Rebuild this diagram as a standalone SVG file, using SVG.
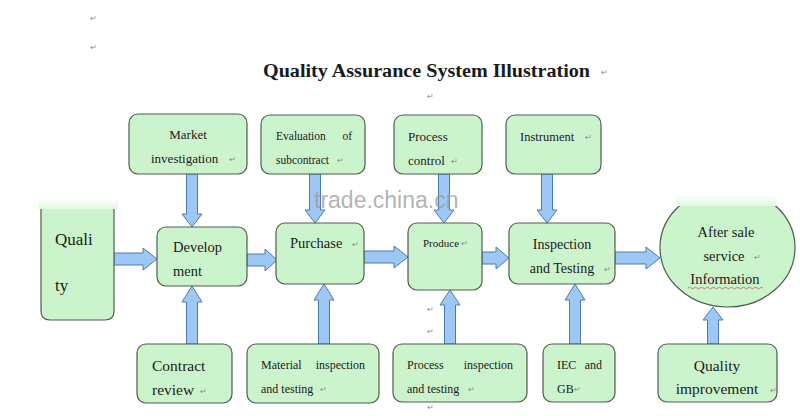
<svg xmlns="http://www.w3.org/2000/svg" width="800" height="416" viewBox="0 0 800 416">
<defs>
<style>
.box{fill:#ccf4cc;stroke:#4d5d4d;stroke-width:1.2}
.arr{fill:#9cc8f3;stroke:#4e78b4;stroke-width:1}
.t{font-family:"Liberation Serif","Times New Roman",serif;fill:#1a1a1a}
.pm{font-family:"Liberation Sans",sans-serif;font-size:8px;fill:#8a8a8a}
</style>
<linearGradient id="fade" x1="0" y1="0" x2="0" y2="1">
<stop offset="0" stop-color="#ffffff"/>
<stop offset="1" stop-color="#e2f8e2"/>
</linearGradient>
<clipPath id="ec"><rect x="650" y="205" width="150" height="110"/></clipPath>
</defs>
<rect width="800" height="416" fill="#ffffff"/>

<text class="pm" x="90" y="21">↵</text>
<text class="pm" x="90" y="50">↵</text>
<text class="t" x="263" y="77" font-size="18.5" font-weight="bold" textLength="327" lengthAdjust="spacingAndGlyphs">Quality Assurance System Illustration</text>
<text class="pm" x="601" y="75">↵</text>
<text class="pm" x="427" y="99">↵</text>

<g id="connectors">
<path class="arr" d="M114,253 H143 V248 L157,259 L143,270 V265 H114 Z"/>
<path class="arr" d="M247,254 H265 V249 L277,260 L265,271 V266 H247 Z"/>
<path class="arr" d="M364,251 H394 V246 L408,257 L394,268 V263 H364 Z"/>
<path class="arr" d="M482,252 H496 V247 L509,258 L496,269 V264 H482 Z"/>
<path class="arr" d="M615,252 H646 V247 L660,258 L646,269 V264 H615 Z"/>
<path class="arr" d="M186.5,174 V214 H182 L192,227 L202,214 H197.5 V174 Z"/>
<path class="arr" d="M309.5,174 V210 H305 L315,223 L325,210 H320.5 V174 Z"/>
<path class="arr" d="M438.5,174 V210 H434 L444,223 L454,210 H449.5 V174 Z"/>
<path class="arr" d="M541.5,174 V210 H537 L547,223 L557,210 H552.5 V174 Z"/>
<path class="arr" d="M186.5,344 V302 H182 L192,286 L202,302 H197.5 V344 Z"/>
<path class="arr" d="M318.5,344 V300 H314 L324,284 L334,300 H329.5 V344 Z"/>
<path class="arr" d="M444.5,344 V305 H440 L450,290 L460,305 H455.5 V344 Z"/>
<path class="arr" d="M569.5,344 V300 H565 L575,284 L585,300 H580.5 V344 Z"/>
<path class="arr" d="M707.5,344 V320 H703 L713,307 L723,320 H718.5 V344 Z"/>
</g>

<g id="market">
<rect class="box" x="129" y="114" width="118" height="60" rx="9"/>
<text class="t" x="188" y="139" font-size="13" text-anchor="middle">Market</text>
<text class="t" x="151" y="163" font-size="13">investigation</text>
<text class="pm" x="229" y="162">↵</text>
</g>
<g id="evaluation">
<rect class="box" x="261" y="115" width="104" height="59" rx="9"/>
<text class="t" x="276" y="140" font-size="11.5">Evaluation</text>
<text class="t" x="352" y="140" font-size="11.5" text-anchor="end">of</text>
<text class="t" x="276" y="164" font-size="11.5">subcontract</text>
<text class="pm" x="337" y="163">↵</text>
</g>
<g id="processcontrol">
<rect class="box" x="394" y="115" width="88" height="59" rx="9"/>
<text class="t" x="408" y="141" font-size="13">Process</text>
<text class="t" x="408" y="165" font-size="13">control</text>
<text class="pm" x="451" y="164">↵</text>
</g>
<g id="instrument">
<rect class="box" x="506" y="115" width="95" height="59" rx="9"/>
<text class="t" x="520" y="141" font-size="12.5">Instrument</text>
<text class="pm" x="585" y="140">↵</text>
</g>

<g id="quality">
<path class="box" d="M41,207 V311 Q41,320 50,320 H105 Q114,320 114,311 V207"/>
<rect x="38" y="198" width="80" height="11" fill="url(#fade)"/>
<text class="t" x="55" y="245" font-size="17">Quali</text>
<text class="t" x="55" y="291" font-size="17">ty</text>
</g>
<g id="development">
<rect class="box" x="157" y="227" width="90" height="59" rx="9"/>
<text class="t" x="173" y="252" font-size="14.5">Develop</text>
<text class="t" x="173" y="276" font-size="14.5">ment</text>
</g>
<g id="purchase">
<rect class="box" x="276" y="223" width="88" height="61" rx="9"/>
<text class="t" x="290" y="248" font-size="14.5">Purchase</text>
<text class="pm" x="352" y="247">↵</text>
</g>
<g id="produce">
<rect class="box" x="408" y="223" width="74" height="67" rx="9"/>
<text class="t" x="423" y="247" font-size="11">Produce</text>
<text class="pm" x="461" y="246">↵</text>
</g>
<g id="inspection">
<rect class="box" x="509" y="223" width="106" height="61" rx="9"/>
<text class="t" x="562" y="249" font-size="14" text-anchor="middle">Inspection</text>
<text class="t" x="562" y="273" font-size="14" text-anchor="middle">and Testing</text>
<text class="pm" x="604" y="272">↵</text>
</g>
<g id="aftersale">
<ellipse class="box" cx="727.5" cy="247.5" rx="67.5" ry="59.5" clip-path="url(#ec)"/>
<rect x="676" y="193" width="100" height="13" fill="url(#fade)"/>
<text class="t" x="726" y="237" font-size="14.5" text-anchor="middle">After sale</text>
<text class="t" x="724" y="261" font-size="14.5" text-anchor="middle">service</text>
<text class="pm" x="754" y="260">↵</text>
<text class="t" x="725" y="284" font-size="14.5" text-anchor="middle">Information</text>
<path d="M688,288 q1.5,-1.5 3,0 t3,0 t3,0 t3,0 t3,0 t3,0 t3,0 t3,0 t3,0 t3,0 t3,0 t3,0 t3,0 t3,0 t3,0 t3,0 t3,0 t3,0 t3,0 t3,0 t3,0 t3,0 t3,0 t3,0 t3,0" fill="none" stroke="#d04040" stroke-width="0.7"/>
</g>

<g id="contract">
<rect class="box" x="137" y="344" width="95" height="59" rx="9"/>
<text class="t" x="152" y="371" font-size="15.5">Contract</text>
<text class="t" x="152" y="395" font-size="15.5">review</text>
<text class="pm" x="200" y="394">↵</text>
</g>
<g id="material">
<rect class="box" x="247" y="344" width="132" height="59" rx="9"/>
<text class="t" x="261" y="369" font-size="12">Material</text>
<text class="t" x="365" y="369" font-size="12" text-anchor="end">inspection</text>
<text class="t" x="261" y="393" font-size="12">and testing</text>
<text class="pm" x="320" y="392">↵</text>
</g>
<g id="processinspection">
<rect class="box" x="393" y="344" width="134" height="58" rx="9"/>
<text class="t" x="407" y="369" font-size="12">Process</text>
<text class="t" x="513" y="369" font-size="12" text-anchor="end">inspection</text>
<text class="t" x="407" y="393" font-size="12">and testing</text>
<text class="pm" x="468" y="392">↵</text>
</g>
<text class="pm" x="427" y="312">↵</text>
<text class="pm" x="427" y="334">↵</text>
<text class="pm" x="427" y="410">↵</text>
<g id="iec">
<rect class="box" x="543" y="344" width="72" height="58" rx="9"/>
<text class="t" x="557" y="369" font-size="12">IEC</text>
<text class="t" x="602" y="369" font-size="12" text-anchor="end">and</text>
<text class="t" x="557" y="393" font-size="12">GB</text>
<text class="pm" x="574" y="392">↵</text>
</g>
<g id="improvement">
<rect class="box" x="658" y="344" width="119" height="58" rx="9"/>
<text class="t" x="717" y="371" font-size="15.5" text-anchor="middle">Quality</text>
<text class="t" x="717" y="394" font-size="15.5" text-anchor="middle">improvement</text>
<text class="pm" x="770" y="393">↵</text>
</g>

<text x="314" y="208" font-family="'Liberation Sans',Arial,sans-serif" font-size="23" fill="#9a9a9a" fill-opacity="0.75">trade.china.cn</text>
</svg>
